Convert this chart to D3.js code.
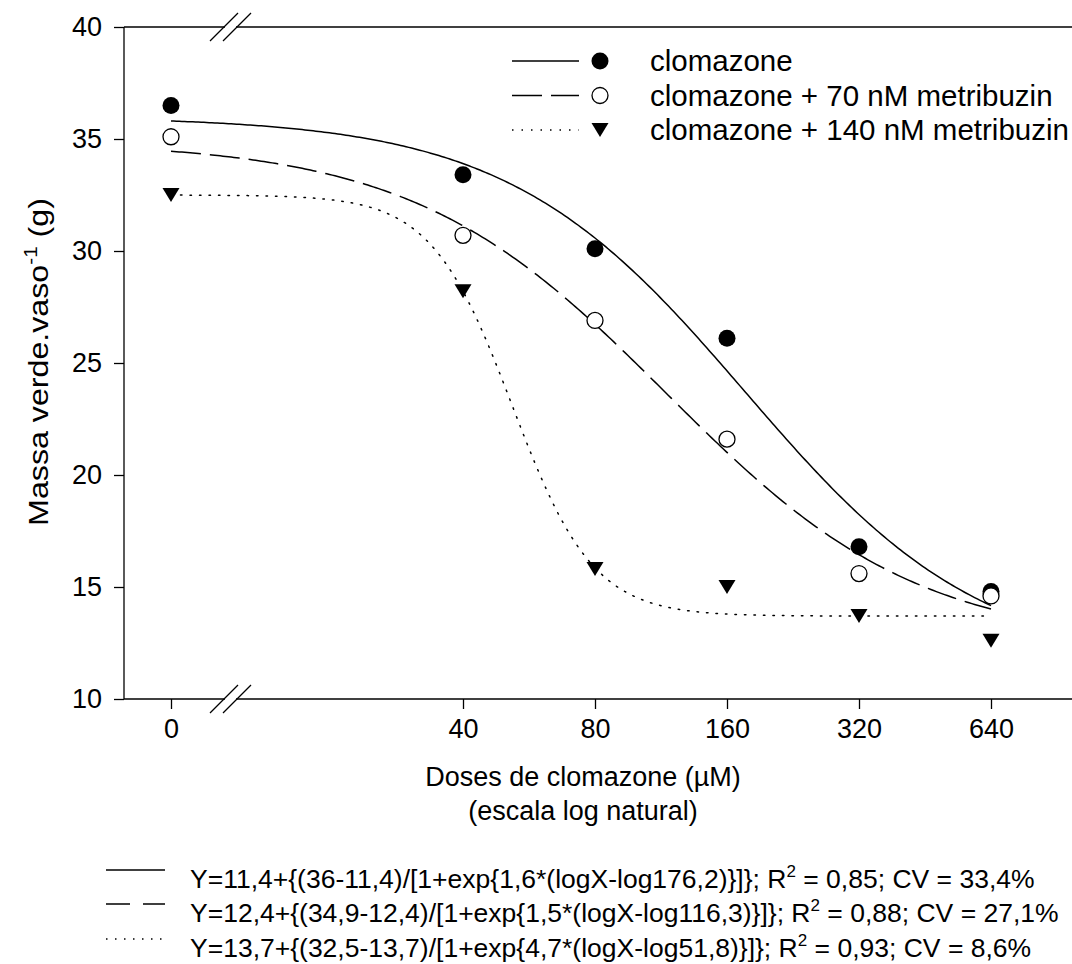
<!DOCTYPE html>
<html>
<head>
<meta charset="utf-8">
<script src="https://cdn.jsdelivr.net/npm/d3@7"></script>
<style>
  body { margin: 0; background: #fff; }
  text { font-family: Arial, "Liberation Sans", sans-serif; fill: #000; }
</style>
</head>
<body>
<div id="container"></div>
<script>
/* DATA */
const doses = [0, 40, 80, 160, 320, 640];
const doseLabels = ["0", "40", "80", "160", "320", "640"];
const yTicks = [10, 15, 20, 25, 30, 35, 40];

const clomazone = [36.5, 33.4, 30.1, 26.1, 16.8, 14.8];
const clomazone70 = [35.1, 30.7, 26.9, 21.6, 15.6, 14.6];
const clomazone140 = [32.5, 28.2, 15.8, 15.0, 13.7, 12.6];

const seriesNames = ["clomazone", "clomazone + 70 nM metribuzin", "clomazone + 140 nM metribuzin"];

// fitted parameters as printed under the chart: Y = c + (d-c)/[1+exp{b*(logX-log e)}]
const fitC = [11.4, 12.4, 13.7];
const fitD = [36, 34.9, 32.5];
const fitB = [1.6, 1.5, 4.7];
const fitE = [176.2, 116.3, 51.8];

const eqText = [
  "Y=11,4+{(36-11,4)/[1+exp{1,6*(logX-log176,2)}]}; R",
  "Y=12,4+{(34,9-12,4)/[1+exp{1,5*(logX-log116,3)}]}; R",
  "Y=13,7+{(32,5-13,7)/[1+exp{4,7*(logX-log51,8)}]}; R"
];
const eqTail = [" = 0,85; CV = 33,4%", " = 0,88; CV = 27,1%", " = 0,93; CV = 8,6%"];

/* LAYOUT */
const width = 1072, height = 964;
const left = 124, right = 1100;
const zeroX = 171;          // where the "0" dose sits, left of the axis break
const breakX = [224, 237];  // the two slashes of the axis break
const fontSize = 27;

const svg = d3.select("#container").append("svg")
  .attr("width", width)
  .attr("height", height);

svg.append("rect").attr("width", width).attr("height", height).attr("fill", "#fff");

/* SCALES */
const x = d3.scaleLog().domain([40, 640]).range([463, 991]);
const zeroDose = x.invert(zeroX);
const xPos = d => d === 0 ? x(zeroDose) : x(d);
const y = d3.scaleLinear().domain([10, 40]).range([699, 27]);

/* AXES */
const yAxis = d3.axisLeft(y).tickValues(yTicks).tickSize(10).tickPadding(12);
svg.append("g").attr("transform", `translate(${left},0)`).call(yAxis)
  .call(g => g.select(".domain").remove());

const xAxis = d3.axisBottom(x)
  .tickValues(doses.map(d => d === 0 ? zeroDose : d))
  .tickFormat((d, i) => doseLabels[i])
  .tickSize(10).tickPadding(10);
svg.append("g").attr("transform", `translate(0,${y(10)})`).call(xAxis)
  .call(g => g.select(".domain").remove());

svg.selectAll(".tick line").attr("stroke", "#000").attr("stroke-width", 1.3);
svg.selectAll(".tick text").style("font-size", fontSize + "px")
  .style("font-family", "Arial, 'Liberation Sans', sans-serif").attr("fill", "#000");

// frame: left axis, bottom axis and the top line
svg.append("line").attr("x1", left).attr("x2", left).attr("y1", y(40)).attr("y2", y(10))
  .attr("stroke", "#000").attr("stroke-width", 1.3);
[y(10), y(40)].forEach(yy => {
  svg.append("line").attr("x1", left).attr("x2", right).attr("y1", yy).attr("y2", yy)
    .attr("stroke", "#000").attr("stroke-width", 1.3);
  // gap between the break marks
  svg.append("rect").attr("x", breakX[0] + 1).attr("y", yy - 2)
    .attr("width", breakX[1] - breakX[0] - 2).attr("height", 4).attr("fill", "#fff");
  breakX.forEach(bx => {
    svg.append("line").attr("x1", bx - 14).attr("y1", yy + 14).attr("x2", bx + 14).attr("y2", yy - 14)
      .attr("stroke", "#000").attr("stroke-width", 1.3);
  });
});

/* CURVES */
const dashes = [null, "30,9", "1.5,8"];
const curveDoses = d3.range(0, 301).map(i => zeroDose * Math.pow(640 / zeroDose, i / 300));
const line = d3.line().x(d => x(d[0])).y(d => y(d[1]));

fitC.forEach((c, i) => {
  const pts = curveDoses.map(X => [X, c + (fitD[i] - c) / (1 + Math.exp(fitB[i] * (Math.log(X) - Math.log(fitE[i]))))]);
  svg.append("path").attr("d", line(pts))
    .attr("fill", "none").attr("stroke", "#000").attr("stroke-width", 1.5)
    .attr("stroke-dasharray", dashes[i])
    .attr("stroke-linecap", i === 2 ? "round" : "butt");
});

/* MARKERS */
const tri = "M-8.5,-7L8.5,-7L0,7Z";
function marker(g, kind) {
  if (kind === 0) g.append("circle").attr("r", 8.5).attr("fill", "#000");
  else if (kind === 1) g.append("circle").attr("r", 8).attr("fill", "#fff").attr("stroke", "#000").attr("stroke-width", 1.3);
  else g.append("path").attr("d", tri).attr("fill", "#000");
}

[clomazone, clomazone70, clomazone140].forEach((vals, i) => {
  svg.append("g").selectAll("g")
    .data(vals)
    .join("g")
    .attr("transform", (v, j) => `translate(${xPos(doses[j])},${y(v)})`)
    .each(function () { marker(d3.select(this), i); });
});

/* LEGEND */
const legendY = [61, 95.5, 130];
seriesNames.forEach((name, i) => {
  svg.append("line").attr("x1", 512).attr("x2", 579).attr("y1", legendY[i]).attr("y2", legendY[i])
    .attr("stroke", "#000").attr("stroke-width", 1.5)
    .attr("stroke-dasharray", dashes[i]);
  marker(svg.append("g").attr("transform", `translate(600,${legendY[i]})`), i);
  svg.append("text").attr("x", 650).attr("y", legendY[i] + 10)
    .style("font-size", "29.5px").text(name);
});

/* AXIS TITLES */
const yTitle = svg.append("text")
  .attr("transform", "translate(48,362) rotate(-90) scale(1.15,1)")
  .attr("text-anchor", "middle")
  .style("font-size", "28px");
yTitle.append("tspan").text("Massa verde.vaso");
yTitle.append("tspan").attr("dy", -11).style("font-size", "18px").text("-1");
yTitle.append("tspan").attr("dy", 11).text(" (g)");

svg.append("text").attr("x", 583).attr("y", 786).attr("text-anchor", "middle")
  .style("font-size", fontSize + "px").text("Doses de clomazone (µM)");
svg.append("text").attr("x", 583).attr("y", 820).attr("text-anchor", "middle")
  .style("font-size", fontSize + "px").text("(escala log natural)");

/* EQUATIONS */
const eqY = [888, 922, 957];
const eqDash = [null, "24,13", "1.5,7.5"];
eqText.forEach((t, i) => {
  svg.append("line").attr("x1", 106).attr("x2", 165).attr("y1", eqY[i] - 18).attr("y2", eqY[i] - 18)
    .attr("stroke", "#000").attr("stroke-width", 1.5).attr("stroke-dasharray", eqDash[i]);
  const tx = svg.append("text").attr("x", 190).attr("y", eqY[i]).style("font-size", "26.5px");
  tx.append("tspan").text(t);
  tx.append("tspan").attr("dy", -11).style("font-size", "17px").text("2");
  tx.append("tspan").attr("dy", 11).text(eqTail[i]);
});
</script>
</body>
</html>
